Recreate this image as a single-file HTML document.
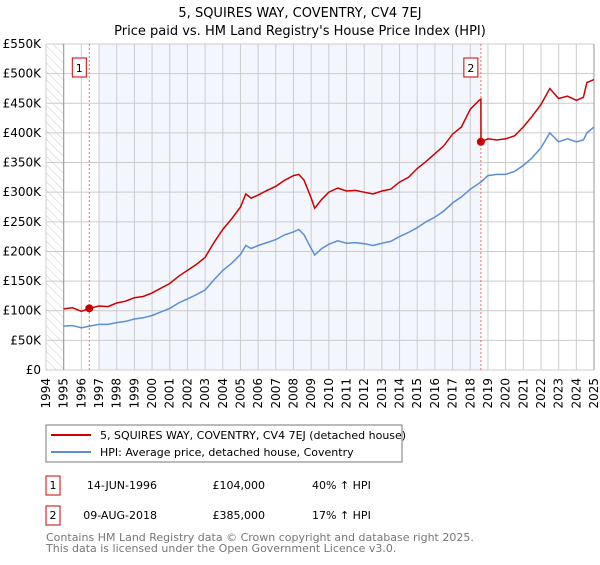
<!DOCTYPE html>
<html><head><meta charset="utf-8"><style>
body{margin:0;background:#fff;font-family:"Liberation Sans","DejaVu Sans",sans-serif}
svg text{font-family:"DejaVu Sans","Liberation Sans",sans-serif}
</style></head><body>
<svg id="c" width="600" height="560" xmlns="http://www.w3.org/2000/svg">
<defs><pattern id="hatch" width="6" height="6" patternUnits="userSpaceOnUse" patternTransform="rotate(-45)"><line x1="0" y1="0" x2="0" y2="6" stroke="#ccc" stroke-width="1"/></pattern></defs>
<text x="300" y="17" text-anchor="middle" font-size="13">5, SQUIRES WAY, COVENTRY, CV4 7EJ</text>
<text x="300" y="35" text-anchor="middle" font-size="13">Price paid vs. HM Land Registry's House Price Index (HPI)</text>
<g id="plot"></g>
<rect x="46" y="425" width="356" height="37" fill="#fff" stroke="#777"/>
<line x1="51" y1="435" x2="91" y2="435" stroke="#cc0000" stroke-width="2"/>
<text x="100" y="439" font-size="11">5, SQUIRES WAY, COVENTRY, CV4 7EJ (detached house)</text>
<line x1="51" y1="452" x2="91" y2="452" stroke="#5b8fd4" stroke-width="2"/>
<text x="100" y="456" font-size="11">HPI: Average price, detached house, Coventry</text>
<g>
<rect x="46" y="476" width="14" height="19" fill="#fff" stroke="#cc0000"/><text x="53" y="489" font-size="11" text-anchor="middle">1</text>
<text x="157" y="489" font-size="11" text-anchor="end">14-JUN-1996</text>
<text x="265" y="489" font-size="11" text-anchor="end">£104,000</text>
<text x="312" y="489" font-size="11">40% ↑ HPI</text></g>
<g>
<rect x="46" y="506" width="14" height="19" fill="#fff" stroke="#cc0000"/><text x="53" y="519" font-size="11" text-anchor="middle">2</text>
<text x="157" y="519" font-size="11" text-anchor="end">09-AUG-2018</text>
<text x="265" y="519" font-size="11" text-anchor="end">£385,000</text>
<text x="312" y="519" font-size="11">17% ↑ HPI</text></g>
<text x="46" y="541" font-size="11" fill="#777">Contains HM Land Registry data © Crown copyright and database right 2025.</text>
<text x="46" y="552" font-size="11" fill="#777">This data is licensed under the Open Government Licence v3.0.</text>
</svg>
<script>
const dates=[1995.0,1995.5,1996.0,1996.45,1997.0,1997.5,1998.0,1998.5,1999.0,1999.5,2000.0,2000.5,2001.0,2001.5,2002.0,2002.5,2003.0,2003.5,2004.0,2004.5,2005.0,2005.3,2005.6,2006.0,2006.5,2007.0,2007.5,2008.0,2008.3,2008.6,2009.0,2009.2,2009.6,2010.0,2010.5,2011.0,2011.5,2012.0,2012.5,2013.0,2013.5,2014.0,2014.5,2015.0,2015.5,2016.0,2016.5,2017.0,2017.5,2018.0,2018.5,2018.6,2018.61,2019.0,2019.5,2020.0,2020.5,2021.0,2021.5,2022.0,2022.5,2023.0,2023.5,2024.0,2024.4,2024.6,2025.0];
const hpi=[74,75,71,74,77,77,80,82,86,88,92,98,104,113,120,127,135,152,168,180,195,210,205,210,215,220,228,233,237,228,205,194,205,212,218,214,215,213,210,214,217,225,232,240,250,258,268,282,292,305,315,317,317,328,330,330,335,345,358,375,400,385,390,385,388,400,410];
const price=[103,105,99,104,108,107,113,116,122,124,130,138,146,158,168,178,190,215,237,255,275,297,290,295,303,310,320,328,330,320,290,273,288,300,307,302,303,300,297,302,305,317,325,340,352,365,378,398,410,440,455,457,385,390,388,390,395,410,428,448,475,458,462,455,460,485,490];
const yTicks=[0,50,100,150,200,250,300,350,400,450,500,550];
const yLabels=["£0","£50K","£100K","£150K","£200K","£250K","£300K","£350K","£400K","£450K","£500K","£550K"];
const years=[1994,1995,1996,1997,1998,1999,2000,2001,2002,2003,2004,2005,2006,2007,2008,2009,2010,2011,2012,2013,2014,2015,2016,2017,2018,2019,2020,2021,2022,2023,2024,2025];
const sales=[{n:"1",d:1996.45,v:104},{n:"2",d:2018.6,v:385}];
const X0=46,X1=594,Y0=370,Y1=44;
const x=d=>X0+(d-1994)/(2025-1994)*(X1-X0);
const y=v=>Y0-v/550*(Y0-Y1);
const g=document.getElementById('plot');const NS="http://www.w3.org/2000/svg";
function mk(t,a){const e=document.createElementNS(NS,t);for(const k in a)e.setAttribute(k,a[k]);g.appendChild(e);return e;}
let e=mk('rect',{x:X0,y:Y1,width:x(1995)-X0,height:Y0-Y1,fill:'url(#hatch)'});


e=mk('rect',{x:x(1997),y:Y1,width:x(2018.6)-x(1997),height:Y0-Y1,fill:'#f3f6fd'});


years.forEach(yr=>{const l=mk('line',{x1:x(yr),x2:x(yr),y1:Y1,y2:Y0,stroke:'#ccc'});


const t=mk('text',{x:0,y:0,'font-size':12,'text-anchor':'end',transform:`translate(${x(yr)+4},${Y0+8}) rotate(-90)`});t.textContent=yr;

});
yTicks.forEach((v,i)=>{const l=mk('line',{x1:X0,x2:X1,y1:y(v),y2:y(v),stroke:'#ccc'});


const t=mk('text',{x:41,y:y(v)+4,'font-size':12,'text-anchor':'end'});t.textContent=yLabels[i];

});
e=mk('line',{x1:x(1995),x2:x(1995),y1:Y1,y2:Y0,stroke:'#999'});


e=mk('line',{x1:X1,x2:X1,y1:Y1,y2:Y0,stroke:'#999'});


sales.forEach(s=>{const l=mk('line',{x1:x(s.d),x2:x(s.d),y1:Y1,y2:Y0,stroke:'#f07070','stroke-dasharray':'2,2'});

});
const path=arr=>dates.map((d,i)=>(i?'L':'M')+x(d).toFixed(1)+','+y(arr[i]).toFixed(1)).join('');
e=mk('path',{d:path(hpi),fill:'none',stroke:'#5b8fd4','stroke-width':1.5});


e=mk('path',{d:path(price),fill:'none',stroke:'#cc0000','stroke-width':1.5});


sales.forEach(s=>{const c=mk('circle',{cx:x(s.d),cy:y(s.v),r:4,fill:'#cc0000'});


const r=mk('rect',{x:x(s.d)-17,y:58,width:14,height:19,fill:'#fff',stroke:'#cc0000'});


const t=mk('text',{x:x(s.d)-10,y:72,'font-size':11,'text-anchor':'middle'});t.textContent=s.n;

});
</script>
</body></html>
